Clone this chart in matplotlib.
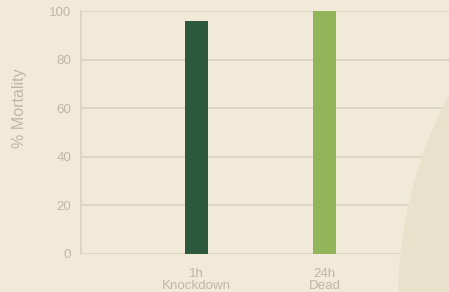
import matplotlib
matplotlib.use("Agg")
import matplotlib.pyplot as plt
from matplotlib.patches import Ellipse

categories = ["1h\nKnockdown", "24h\nDead"]
values = [96, 100]
colors = ["#2c583b", "#92b55a"]
yticks = [0, 20, 40, 60, 80, 100]

BG = "#f1ead8"
CIRCLE = "#e9e1cb"
GRID = "#d6cfbd"
TXT = "#bfb7a7"

plt.rcParams['font.family'] = ['Liberation Sans', 'DejaVu Sans']

W, H = 449, 292
fig = plt.figure(figsize=(W / 100, H / 100), dpi=100, facecolor=BG)

circ = Ellipse((836 / W, -8 / H), 2 * 438 / W, 2 * 438 / H,
               transform=fig.transFigure, facecolor=CIRCLE, edgecolor='none', zorder=0)
fig.patches.append(circ)

ax = fig.add_axes([81 / W, 38 / H, 1 - 81 / W, 243 / H])
ax.set_facecolor('none')
x = list(range(len(categories)))
ax.bar(x, values, width=0.18, color=colors, zorder=3)
ax.set_xlim(-0.902, 1.973)
ax.set_ylim(0, 100)
ax.set_yticks(yticks)
ax.set_xticks(x)
ax.set_xticklabels(categories)
ax.grid(axis='y', color=GRID, linewidth=1.1, zorder=1)
ax.set_axisbelow(True)
for s in ['top', 'right', 'bottom']:
    ax.spines[s].set_visible(False)
ax.spines['left'].set_color(GRID)
ax.spines['left'].set_linewidth(1.1)
ax.tick_params(axis='both', length=0, colors=TXT, labelsize=9.6)
ax.tick_params(axis='y', pad=7)
ax.tick_params(axis='x', pad=10)
for lab in ax.get_xticklabels():
    lab.set_linespacing(1.05)
ax.set_ylabel("% Mortality", color=TXT, fontsize=11.5, va='center', ha='center')
ax.yaxis.set_label_coords(-0.166, 0.6)

fig.savefig("out.png", dpi=100, facecolor=BG)
